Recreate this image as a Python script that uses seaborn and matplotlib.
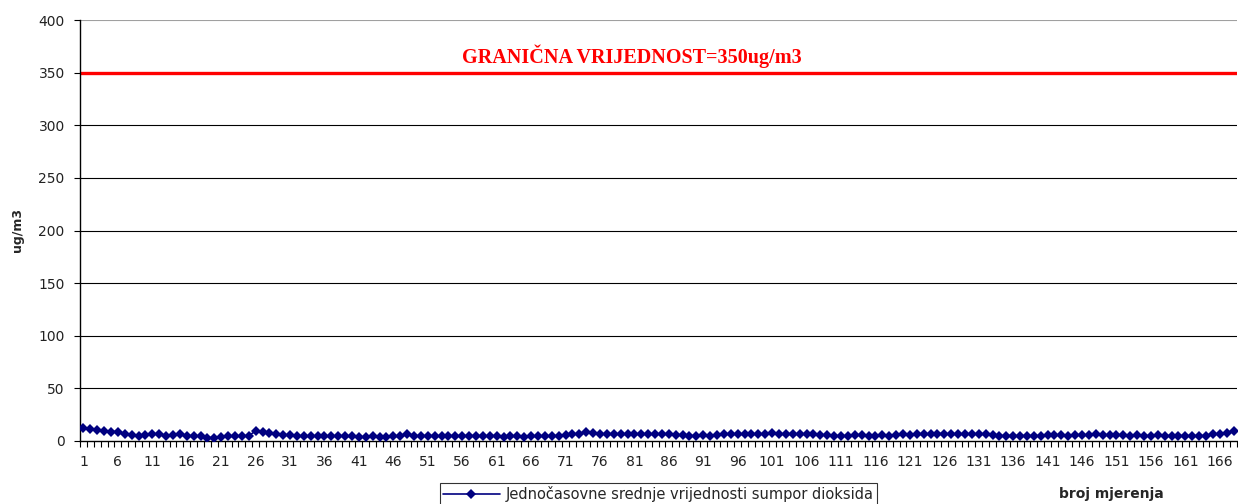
import numpy as np
import pandas as pd
import matplotlib
matplotlib.use("Agg")
import matplotlib.pyplot as plt
import seaborn as sns

# hourly SO2 means, measurements 1..168
so2_values = [
    12.7, 11.0, 10.8, 9.8, 9.0, 9.0, 7.0, 5.7, 4.4, 5.7, 6.7, 6.4, 5.0, 5.7,
    6.4, 5.0, 5.0, 4.4, 3.2, 3.2, 3.8, 4.4, 4.4, 5.0, 5.0, 9.5, 8.9, 7.6,
    6.4, 5.7, 5.7, 5.0, 4.4, 4.4, 5.0, 4.4, 4.4, 5.0, 4.4, 4.4, 3.8, 3.8,
    4.4, 3.8, 3.8, 4.4, 4.4, 6.4, 5.0, 5.0, 5.0, 5.0, 4.4, 5.0, 5.0, 5.0,
    5.0, 5.0, 4.4, 5.0, 5.0, 3.8, 4.4, 4.4, 3.8, 4.4, 4.4, 4.4, 5.0, 5.0,
    5.7, 6.4, 7.0, 8.3, 7.6, 7.0, 6.4, 6.4, 6.4, 6.4, 6.4, 6.4, 6.4, 6.4,
    6.4, 6.4, 5.7, 5.7, 5.0, 5.0, 5.7, 5.0, 5.7, 6.4, 6.4, 6.4, 6.4, 6.4,
    6.4, 7.0, 7.6, 6.4, 6.4, 6.4, 6.4, 6.4, 6.4, 5.7, 5.7, 5.0, 5.0, 5.0,
    5.7, 5.7, 5.0, 5.0, 5.7, 5.0, 5.7, 6.4, 5.7, 6.4, 6.4, 6.4, 7.0, 7.0,
    6.4, 6.4, 6.4, 7.0, 6.4, 6.4, 5.7, 5.0, 5.0, 5.0, 5.0, 5.0, 5.0, 5.0,
    5.7, 5.7, 5.7, 5.0, 5.7, 5.7, 5.7, 6.4, 5.7, 5.7, 5.7, 5.7, 5.0, 5.7,
    5.0, 5.0, 5.7, 5.0, 5.0, 5.0, 5.0, 5.0, 5.0, 5.0, 6.4, 7.0, 7.6, 9.5,
]
measurements = list(range(1, len(so2_values) + 1))
limit_value = 350
limit_label = "GRANIČNA VRIJEDNOST=350ug/m3"
series_label = "Jednočasovne srednje vrijednosti sumpor dioksida"
y_ticks = [0, 50, 100, 150, 200, 250, 300, 350, 400]
x_tick_labels = list(range(1, 167, 5))

df = pd.DataFrame({"mjerenje": measurements, "so2": so2_values})

sns.set_style("white")
plt.rcParams["font.family"] = ["DejaVu Sans"]

fig = plt.figure(figsize=(12.38, 5.04), dpi=100)
ax = fig.add_axes([80 / 1238, 1 - 441 / 504, 1157 / 1238, 421 / 504])

# gridlines
for yv in y_ticks[1:-1]:
    ax.axhline(yv, color="black", lw=0.8, zorder=1)
ax.axhline(400, color="#a0a0a0", lw=0.8, zorder=1)

# limit line
ax.axhline(limit_value, color="#ff0000", lw=2.4, zorder=2)
ax.text(632 / 1238, 1 - 56 / 504, limit_label, transform=fig.transFigure,
        ha="center", va="center", color="#ff0000", fontsize=14.5,
        fontweight="bold", family=["Liberation Serif", "DejaVu Serif"])

sns.lineplot(data=df, x="mjerenje", y="so2", ax=ax, color="#000080",
             marker="D", markersize=5.5, markeredgewidth=0, lw=1.2,
             label=series_label, zorder=3)

ax.set_xlim(0.5, len(so2_values) + 0.5)
ax.set_ylim(0, 400)
ax.set_yticks(y_ticks)
ax.set_xticks(x_tick_labels)
ax.set_xticklabels([str(v) for v in x_tick_labels])
ax.set_xticks(np.arange(0.5, len(so2_values) + 1, 1), minor=True)
ax.tick_params(axis="x", which="major", length=0, labelsize=10, pad=10,
               labelcolor="#222222")
ax.tick_params(axis="x", which="minor", length=4, width=0.8, color="black",
               direction="out", bottom=True)
ax.tick_params(axis="y", length=4, width=0.8, color="black", direction="out",
               left=True, labelsize=10, pad=7, labelcolor="#222222")

for side in ["top", "right"]:
    ax.spines[side].set_visible(False)
for side in ["left", "bottom"]:
    ax.spines[side].set_color("black")
    ax.spines[side].set_linewidth(1.0)

ax.set_xlabel("")
ax.set_ylabel("ug/m3", fontsize=9, fontweight="bold", labelpad=10)

leg = ax.legend(loc="upper left", bbox_to_anchor=(440 / 1238, 1 - 483 / 504),
                bbox_transform=fig.transFigure, frameon=True, fancybox=False,
                fontsize=10.5, borderpad=0.2, borderaxespad=0,
                handlelength=3.9, handletextpad=0.4)
leg.get_frame().set_edgecolor("black")
leg.get_frame().set_linewidth(0.8)

fig.text(1111 / 1238, 1 - 494 / 504, "broj mjerenja", ha="center", va="center",
         fontsize=10, fontweight="bold")

fig.savefig("out.png", dpi=100)
